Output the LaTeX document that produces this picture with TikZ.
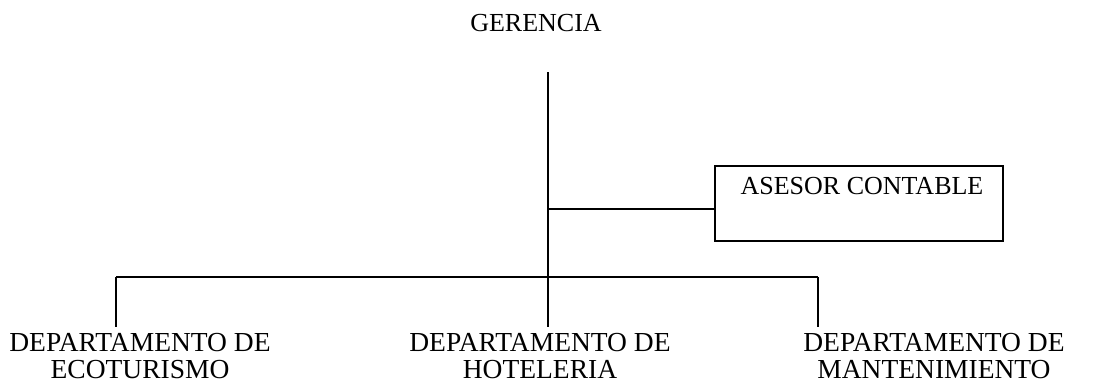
\documentclass[tikz,border=0pt]{standalone}
\usepackage{fontspec}
\setmainfont{Liberation Serif}
\begin{document}
\begin{tikzpicture}[x=1pt,y=-1pt,
  lbl/.style={font=\fontsize{26}{27}\selectfont, inner sep=0pt},
  dept/.style={font=\fontsize{27.5}{27}\selectfont, inner sep=0pt, align=center, inner ysep=6pt},
  conn/.style={line width=1.5pt}]
\useasboundingbox (0,0) rectangle (1095,383);
\node[lbl] (ger) at (536,23) {GERENCIA};
\node[draw, line width=1.5pt, minimum width=288pt, minimum height=75pt, inner sep=0pt] (ase) at (859,203.5) {};
\node[lbl] (asetxt) at (862,186) {ASESOR CONTABLE};
\node[dept] (d1) at (140,356) {DEPARTAMENTO DE\\ECOTURISMO};
\node[dept] (d2) at (540,356) {DEPARTAMENTO DE\\HOTELERIA};
\node[dept] (d3) at (934,356) {DEPARTAMENTO DE\\MANTENIMIENTO};
\coordinate (top) at (548,72);
\coordinate (a) at (548,209);
\coordinate (j) at (548,277);
\coordinate (l) at (116,277);
\coordinate (r) at (818,277);
\draw[conn] (top) -- (j);
\draw[conn] (a) -- (a -| ase.west);
\draw[conn] (l) -- (r);
\draw[conn] (l) -- (l |- d1.north);
\draw[conn] (j) -- (j |- d2.north);
\draw[conn] (r) -- (r |- d3.north);
\end{tikzpicture}
\end{document}
